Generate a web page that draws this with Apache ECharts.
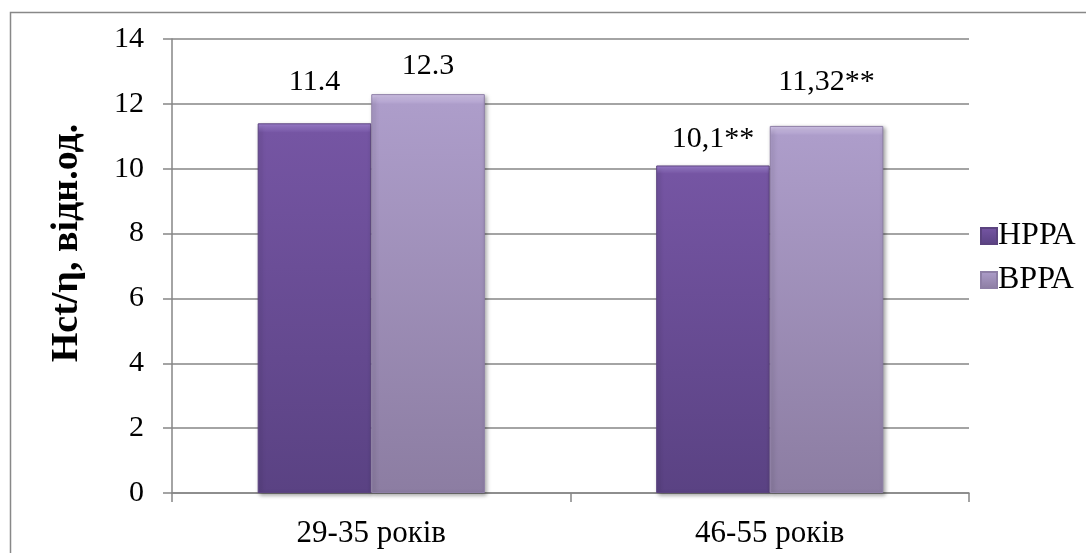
<!DOCTYPE html>
<html>
<head>
<meta charset="utf-8">
<script src="https://cdn.jsdelivr.net/npm/echarts@6/dist/echarts.min.js"></script>
<style>
  html, body { margin: 0; padding: 0; background: #ffffff; }
  #chart { width: 1086px; height: 553px; }
</style>
</head>
<body>
<div id="chart"></div>
<script>
// Age groups on the category axis
const categories = ['29-35 років', '46-55 років'];
// Hct/η values per group
const seriesNames = ['НРРА', 'ВРРА'];
const valuesLow = [11.4, 10.1];
const valuesHigh = [12.3, 11.32];
// Printed labels above the bars
const labelsLow = ['11.4', '10,1**'];
const labelsHigh = ['12.3', '11,32**'];
// Value axis ticks
const yTicks = [0, 2, 4, 6, 8, 10, 12, 14];

const FONT = '"Liberation Serif", "Times New Roman", serif';

const chart = echarts.init(document.getElementById('chart'), null, { renderer: 'canvas' });

function bevelFill(top, mid, bottom) {
  return new echarts.graphic.LinearGradient(0, 0, 0, 1, [
    { offset: 0, color: top },
    { offset: 0.025, color: mid },
    { offset: 1, color: bottom }
  ]);
}

const labelDist1 = [26, 11];
const labelDist2 = [13, 29];

function buildData(values, labels, dists) {
  return values.map((v, i) => ({
    value: v,
    label: { formatter: labels[i], distance: dists[i] }
  }));
}

const option = {
  animation: false,
  backgroundColor: '#ffffff',
  grid: { left: 172, right: 117, top: 39, bottom: 60, containLabel: false },
  legend: {
    orient: 'vertical',
    left: 975,
    top: 215,
    itemWidth: 16,
    itemHeight: 16,
    itemGap: 12,
    icon: 'rect',
    textStyle: { fontFamily: FONT, fontSize: 32, color: '#000', padding: [0, 0, 0, -4] },
    data: seriesNames
  },
  xAxis: {
    type: 'category',
    data: categories,
    axisLine: { lineStyle: { color: '#868686', width: 1.5 } },
    axisTick: { show: true, length: 9, lineStyle: { color: '#868686', width: 1.5 } },
    axisLabel: { fontFamily: FONT, fontSize: 31, color: '#000', margin: 25 }
  },
  yAxis: {
    type: 'value',
    min: yTicks[0],
    max: yTicks[yTicks.length - 1],
    interval: 2,
    axisLine: { show: true, lineStyle: { color: '#868686', width: 1.5 } },
    axisTick: { show: true, length: 9, lineStyle: { color: '#868686', width: 1.5 } },
    axisLabel: { fontFamily: FONT, fontSize: 30, color: '#000', margin: 28 },
    splitLine: { lineStyle: { color: '#868686', width: 1.5 } }
  },
  series: [
    {
      name: seriesNames[0],
      type: 'bar',
      barGap: '0%',
      barCategoryGap: '43%',
      data: buildData(valuesLow, labelsLow, labelDist1),
      itemStyle: {
        color: bevelFill('#a184d4', '#7555a3', '#5a4283'),
        borderColor: '#5b437f',
        borderWidth: 1,
        shadowColor: 'rgba(0,0,0,0.35)',
        shadowBlur: 4,
        shadowOffsetX: 2,
        shadowOffsetY: 2
      },
      label: { show: true, position: 'top', fontFamily: FONT, fontSize: 30, color: '#000' }
    },
    {
      name: seriesNames[1],
      type: 'bar',
      data: buildData(valuesHigh, labelsHigh, labelDist2),
      itemStyle: {
        color: bevelFill('#d9cbf0', '#ad9dca', '#8c7da2'),
        borderColor: '#8e7fa6',
        borderWidth: 1,
        shadowColor: 'rgba(0,0,0,0.35)',
        shadowBlur: 4,
        shadowOffsetX: 2,
        shadowOffsetY: 2
      },
      label: { show: true, position: 'top', fontFamily: FONT, fontSize: 30, color: '#000' }
    }
  ],
  graphic: [
    {
      type: 'rect',
      left: 8, top: 10,
      shape: { width: 1090, height: 560 },
      style: { fill: 'none', stroke: '#888888', lineWidth: 1.5 },
      z: -1
    },
    {
      type: 'text',
      x: 67, y: 243,
      rotation: Math.PI / 2,
      style: {
        text: 'Hct/η, відн.од.',
        fontFamily: FONT,
        fontSize: 38,
        fontWeight: 'bold',
        fill: '#000',
        align: 'center',
        verticalAlign: 'middle'
      }
    }
  ]
};

chart.setOption(option);
</script>
</body>
</html>
